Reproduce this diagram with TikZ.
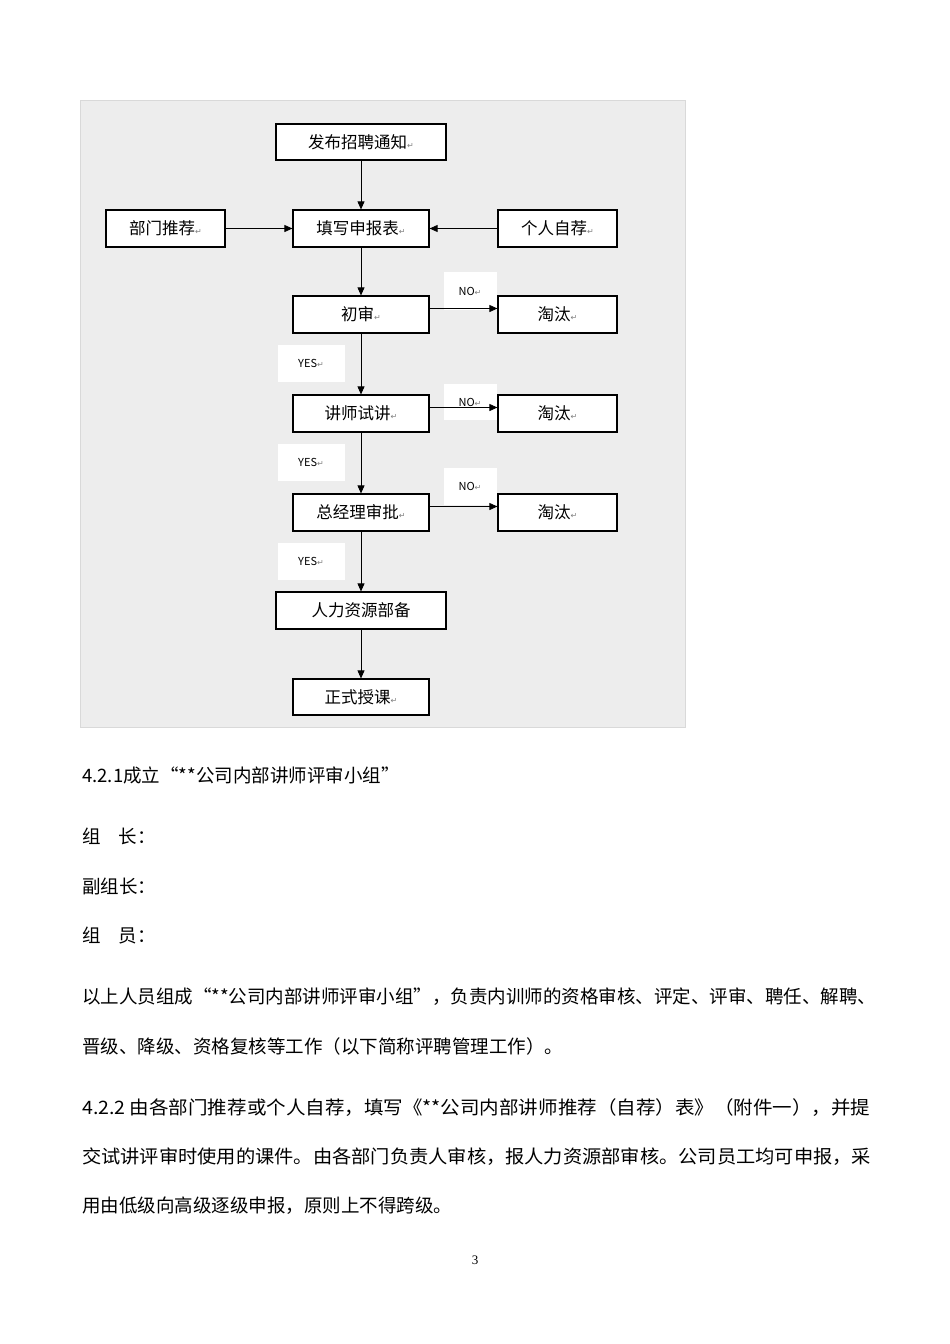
\documentclass[tikz,border=0pt]{standalone}
\usepackage{fontspec}
\setmainfont{Liberation Serif}
\newfontfamily\cjk{Noto Sans CJK SC}
\newfontfamily\dv{DejaVu Sans}
\usetikzlibrary{arrows.meta}
\newcommand{\rt}{{\dv\fontsize{8pt}{8pt}\selectfont\color{gray}↵}}
\begin{document}
\begin{tikzpicture}[x=1pt,y=-1pt,
  box/.style={draw=black,line width=1.2pt,fill=white,inner sep=0pt,font=\cjk\fontsize{16.5pt}{16.5pt}\selectfont},
  lab/.style={fill=white,inner sep=0pt,font=\cjk\fontsize{11pt}{11pt}\selectfont},
  arr/.style={-{Triangle[length=8pt,width=7pt]},line width=0.8pt},
  txt/.style={anchor=west,inner sep=0pt,font=\cjk\fontsize{18.5pt}{18.5pt}\selectfont}]
\useasboundingbox[fill=white] (0,0) rectangle (950,1344);
\fill[black!7] (80,100) rectangle (685,727);
\draw[black!15] (80,100) rectangle (685,727);
% labels
\node[lab,minimum width=53pt,minimum height=38pt] (no1) at (470,291) {NO\rt};
\node[lab,minimum width=53pt,minimum height=36pt] (no2) at (470,402) {NO\rt};
\node[lab,minimum width=53pt,minimum height=37pt] (no3) at (470,486) {NO\rt};
\node[lab,minimum width=67pt,minimum height=37pt] (y1) at (311,363) {YES\rt};
\node[lab,minimum width=67pt,minimum height=37pt] (y2) at (311,462) {YES\rt};
\node[lab,minimum width=67pt,minimum height=37pt] (y3) at (311,561) {YES\rt};
% boxes
\node[box,minimum width=170pt,minimum height=36pt] (fb) at (361,142) {发布招聘通知\rt};
\node[box,minimum width=119pt,minimum height=37pt] (bm) at (165.5,228.5) {部门推荐\rt};
\node[box,minimum width=136pt,minimum height=37pt] (tx) at (361,228.5) {填写申报表\rt};
\node[box,minimum width=119pt,minimum height=37pt] (gr) at (557.5,228.5) {个人自荐\rt};
\node[box,minimum width=136pt,minimum height=37pt] (cs) at (361,314.5) {初审\rt};
\node[box,minimum width=119pt,minimum height=37pt] (tt1) at (557.5,314.5) {淘汰\rt};
\node[box,minimum width=136pt,minimum height=37pt] (js) at (361,413.5) {讲师试讲\rt};
\node[box,minimum width=119pt,minimum height=37pt] (tt2) at (557.5,413.5) {淘汰\rt};
\node[box,minimum width=136pt,minimum height=37pt] (zj) at (361,512.5) {总经理审批\rt};
\node[box,minimum width=119pt,minimum height=37pt] (tt3) at (557.5,512.5) {淘汰\rt};
\node[box,minimum width=170pt,minimum height=37pt] (rl) at (361,610.5) {人力资源部备};
\node[box,minimum width=136pt,minimum height=36pt] (zs) at (361,697) {正式授课\rt};
% arrows
\draw[arr] (fb) -- (tx);
\draw[arr] (bm) -- (tx);
\draw[arr] (gr) -- (tx);
\draw[arr] (tx) -- (cs);
\draw[arr] (cs) -- (js);
\draw[arr] (js) -- (zj);
\draw[arr] (zj) -- (rl);
\draw[arr] (rl) -- (zs);
\draw[arr] ([yshift=6pt]cs.east) -- ([yshift=6pt]tt1.west);
\draw[arr] ([yshift=6pt]js.east) -- ([yshift=6pt]tt2.west);
\draw[arr] ([yshift=6pt]zj.east) -- ([yshift=6pt]tt3.west);
% text
\node[txt] (t1) at (82,775) {4.2.1成立“**公司内部讲师评审小组”};
\node[txt] (t2) at (82,836) {组\hspace{18pt}长：};
\node[txt] (t3) at (82,886) {副组长：};
\node[txt] (t4) at (82,935) {组\hspace{18pt}员：};
\node[txt] (t5) at (82,997) {以上人员组成“**公司内部讲师评审小组”，负责内训师的资格审核、评定、评审、聘任、解聘、};
\node[txt] (t6) at (82,1046) {晋级、降级、资格复核等工作（以下简称评聘管理工作）。};
\node[txt] (t7) at (82,1108) {\scalebox{1.055}[1]{4.2.2 由各部门推荐或个人自荐，填写《**公司内部讲师推荐（自荐）表》（附件一），并提}};
\node[txt] (t8) at (82,1157) {\scalebox{1.04}[1]{交试讲评审时使用的课件。由各部门负责人审核，报人力资源部审核。公司员工均可申报，采}};
\node[txt] (t9) at (82,1206) {用由低级向高级逐级申报，原则上不得跨级。};
\node[inner sep=0pt,font=\fontsize{13pt}{13pt}\selectfont] (pg) at (475,1260) {3};
\end{tikzpicture}
\end{document}
